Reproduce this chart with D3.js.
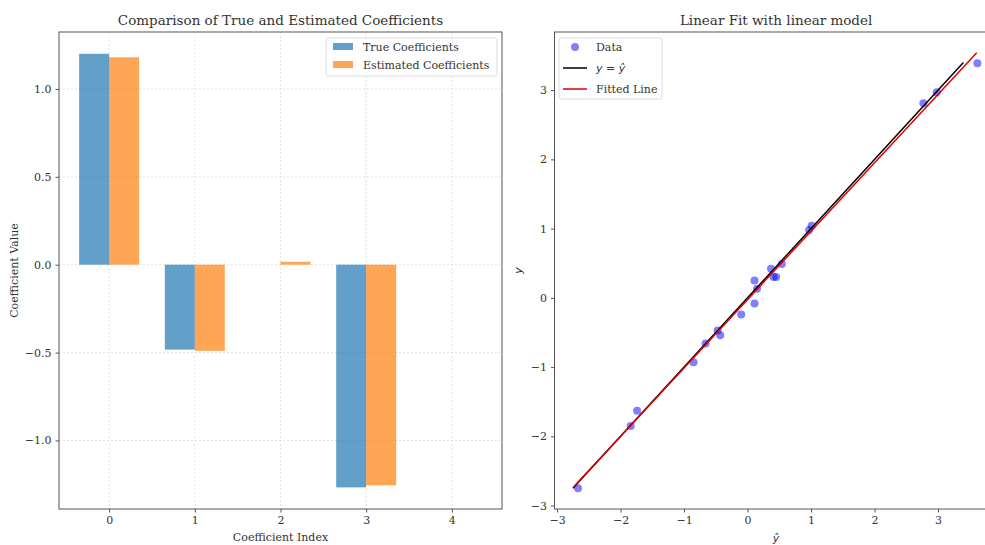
<!DOCTYPE html>
<html>
<head>
<meta charset="utf-8">
<script src="https://cdn.jsdelivr.net/npm/d3@7"></script>
<style>
  body { margin: 0; background: #fff; }
  svg text { font-family: "DejaVu Serif", serif; fill: #333; }
  .tick line { stroke: #555; }
  .domain { display: none; }
</style>
</head>
<body>
<svg id="chart" width="985" height="545"></svg>
<script>
// left panel data
const coefIndex = [0, 1, 2, 3, 4]
const trueCoefs = [1.20, -0.483, 0.0, -1.267, 0.0]
const estCoefs = [1.18, -0.49, 0.017, -1.255, 0.0]
const barTicksY = [-1.0, -0.5, 0.0, 0.5, 1.0]

// right panel data (yhat, y)
const yHat = [-2.67, -1.84, -1.74, -0.85, -0.66, -0.47, -0.43, -0.10, 0.11, 0.11, 0.15, 0.37, 0.41, 0.45, 0.54, 0.97, 1.01, 2.77, 2.98, 3.62]
const yTrue = [-2.75, -1.85, -1.63, -0.93, -0.66, -0.47, -0.54, -0.24, -0.08, 0.25, 0.13, 0.42, 0.30, 0.30, 0.49, 0.98, 1.04, 2.81, 2.97, 3.39]
const identX = [-2.75, 3.40]
const fitX = [-2.73, 3.61]
const fitY = [-2.72, 3.54]
const fitTicks = [-3, -2, -1, 0, 1, 2, 3]

const svg = d3.select("#chart")
const frame = "#555"

// ---------- left: bar comparison ----------
const L = {x0: 59, x1: 502, y0: 32, y1: 509}
const xBar = d3.scaleLinear().domain([-0.585, 4.585]).range([L.x0, L.x1])
const yBar = d3.scaleLinear().domain([-1.39, 1.324]).range([L.y1, L.y0])
const bw = 0.35

const left = svg.append("g")

// grid
left.append("g").selectAll("line").data(coefIndex).join("line")
    .attr("x1", d => xBar(d)).attr("x2", d => xBar(d))
    .attr("y1", L.y0).attr("y2", L.y1)
    .attr("stroke", "#d9d9d9").attr("stroke-dasharray", "2,2").attr("stroke-width", 0.8)
left.append("g").selectAll("line").data(barTicksY).join("line")
    .attr("x1", L.x0).attr("x2", L.x1)
    .attr("y1", d => yBar(d)).attr("y2", d => yBar(d))
    .attr("stroke", "#d9d9d9").attr("stroke-dasharray", "2,2").attr("stroke-width", 0.8)

left.append("g").selectAll("rect").data(coefIndex).join("rect")
    .attr("x", i => xBar(i - bw))
    .attr("width", xBar(bw) - xBar(0))
    .attr("y", i => yBar(Math.max(0, trueCoefs[i])))
    .attr("height", i => Math.abs(yBar(trueCoefs[i]) - yBar(0)))
    .attr("fill", "#1f77b4").attr("fill-opacity", 0.7)
left.append("g").selectAll("rect").data(coefIndex).join("rect")
    .attr("x", i => xBar(i))
    .attr("width", xBar(bw) - xBar(0))
    .attr("y", i => yBar(Math.max(0, estCoefs[i])))
    .attr("height", i => Math.abs(yBar(estCoefs[i]) - yBar(0)))
    .attr("fill", "#ff7f0e").attr("fill-opacity", 0.7)

left.append("rect")
    .attr("x", L.x0).attr("y", L.y0).attr("width", L.x1 - L.x0).attr("height", L.y1 - L.y0)
    .attr("fill", "none").attr("stroke", frame).attr("stroke-width", 1)

left.append("g").attr("transform", `translate(0,${L.y1})`)
    .call(d3.axisBottom(xBar).tickValues(coefIndex).tickFormat(d3.format("d")).tickSize(3.5).tickPadding(4))
    .call(g => g.selectAll("text").attr("font-size", 11))
left.append("g").attr("transform", `translate(${L.x0},0)`)
    .call(d3.axisLeft(yBar).tickValues(barTicksY).tickFormat(d3.format(".1f")).tickSize(3.5).tickPadding(4))
    .call(g => g.selectAll("text").attr("font-size", 11))

left.append("text").attr("x", (L.x0 + L.x1) / 2).attr("y", 25)
    .attr("text-anchor", "middle").attr("font-size", 13.5).text("Comparison of True and Estimated Coefficients")
left.append("text").attr("x", (L.x0 + L.x1) / 2).attr("y", 541)
    .attr("text-anchor", "middle").attr("font-size", 11).text("Coefficient Index")
left.append("text").attr("transform", `translate(18,${(L.y0 + L.y1) / 2}) rotate(-90)`)
    .attr("text-anchor", "middle").attr("font-size", 11).text("Coefficient Value")

// legend
const lg = left.append("g").attr("transform", "translate(326,38)")
lg.append("rect").attr("width", 171).attr("height", 38).attr("rx", 2)
    .attr("fill", "#fff").attr("fill-opacity", 0.8).attr("stroke", "#ddd")
const legBars = [["True Coefficients", "#1f77b4"], ["Estimated Coefficients", "#ff7f0e"]]
legBars.forEach(([name, c], i) => {
    lg.append("rect").attr("x", 7).attr("y", 5 + i * 18).attr("width", 20).attr("height", 7)
        .attr("fill", c).attr("fill-opacity", 0.7)
    lg.append("text").attr("x", 37).attr("y", 13 + i * 18).attr("font-size", 11).text(name)
})

// ---------- right: linear fit ----------
const R = {x0: 554.5, x1: 997.7, y0: 32, y1: 509}
const xFit = d3.scaleLinear().domain([-3.04, 3.94]).range([R.x0, R.x1])
const yFit = d3.scaleLinear().domain([-3.05, 3.84]).range([R.y1, R.y0])

const right = svg.append("g")

right.append("g").selectAll("circle").data(yHat).join("circle")
    .attr("cx", d => xFit(d))
    .attr("cy", (d, i) => yFit(yTrue[i]))
    .attr("r", 4).attr("fill", "#0000ff").attr("fill-opacity", 0.5)

right.append("line")
    .attr("x1", xFit(identX[0])).attr("y1", yFit(identX[0]))
    .attr("x2", xFit(identX[1])).attr("y2", yFit(identX[1]))
    .attr("stroke", "#000").attr("stroke-width", 1.5)
right.append("line")
    .attr("x1", xFit(fitX[0])).attr("y1", yFit(fitY[0]))
    .attr("x2", xFit(fitX[1])).attr("y2", yFit(fitY[1]))
    .attr("stroke", "#e00000").attr("stroke-width", 1.5)

right.append("rect")
    .attr("x", R.x0).attr("y", R.y0).attr("width", R.x1 - R.x0).attr("height", R.y1 - R.y0)
    .attr("fill", "none").attr("stroke", frame).attr("stroke-width", 1)

right.append("g").attr("transform", `translate(0,${R.y1})`)
    .call(d3.axisBottom(xFit).tickValues(fitTicks).tickFormat(d3.format("d")).tickSize(3.5).tickPadding(4))
    .call(g => g.selectAll("text").attr("font-size", 11))
right.append("g").attr("transform", `translate(${R.x0},0)`)
    .call(d3.axisLeft(yFit).tickValues(fitTicks).tickFormat(d3.format("d")).tickSize(3.5).tickPadding(4))
    .call(g => g.selectAll("text").attr("font-size", 11))

right.append("text").attr("x", (R.x0 + R.x1) / 2).attr("y", 25)
    .attr("text-anchor", "middle").attr("font-size", 13.5).text("Linear Fit with linear model")
right.append("text").attr("x", (R.x0 + R.x1) / 2).attr("y", 542)
    .attr("text-anchor", "middle").attr("font-size", 11).attr("font-style", "italic")
    .style("font-family", "DejaVu Sans, sans-serif").text("ŷ")
right.append("text").attr("transform", `translate(522,${(R.y0 + R.y1) / 2}) rotate(-90)`)
    .attr("text-anchor", "middle").attr("font-size", 11).attr("font-style", "italic")
    .style("font-family", "DejaVu Sans, sans-serif").text("y")

const rl = right.append("g").attr("transform", "translate(559,38)")
rl.append("rect").attr("width", 103).attr("height", 61).attr("rx", 2)
    .attr("fill", "#fff").attr("fill-opacity", 0.8).attr("stroke", "#ddd")
rl.append("circle").attr("cx", 16).attr("cy", 9).attr("r", 4).attr("fill", "#0000ff").attr("fill-opacity", 0.5)
rl.append("text").attr("x", 37).attr("y", 13).attr("font-size", 11).text("Data")
rl.append("line").attr("x1", 4).attr("x2", 28).attr("y1", 30).attr("y2", 30).attr("stroke", "#000").attr("stroke-width", 1.5)
const eq = rl.append("text").attr("x", 37).attr("y", 34).attr("font-size", 11)
    .style("font-family", "DejaVu Sans, sans-serif")
eq.append("tspan").attr("font-style", "italic").text("y")
eq.append("tspan").text(" = ")
eq.append("tspan").attr("font-style", "italic").text("ŷ")
rl.append("line").attr("x1", 4).attr("x2", 28).attr("y1", 51).attr("y2", 51).attr("stroke", "#e00000").attr("stroke-width", 1.5)
rl.append("text").attr("x", 37).attr("y", 55).attr("font-size", 11).text("Fitted Line")
</script>
</body>
</html>
